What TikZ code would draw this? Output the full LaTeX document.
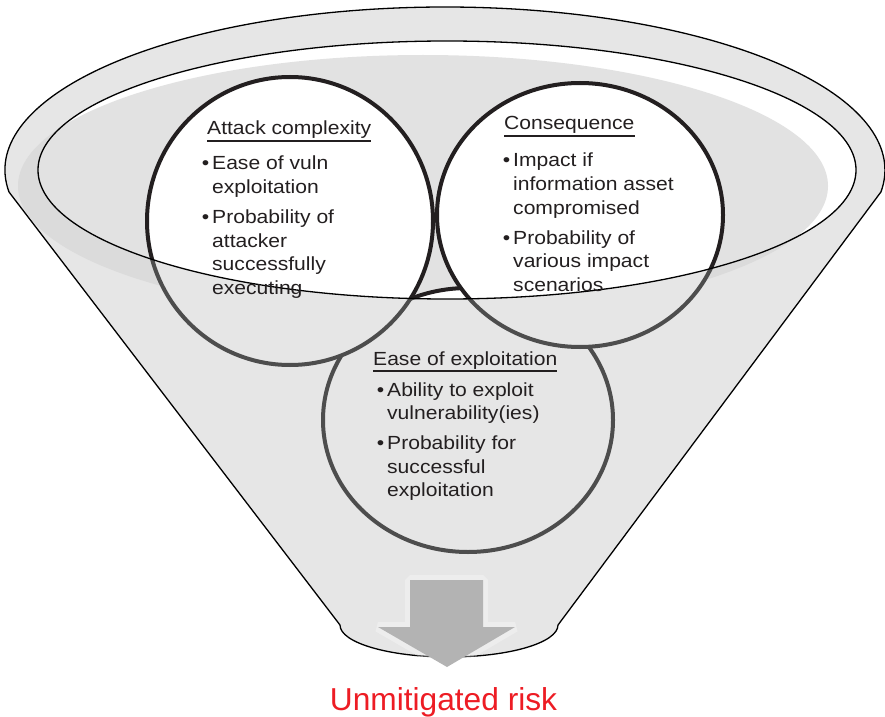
\documentclass[tikz,border=0pt]{standalone}
\usepackage{fontspec}
\setmainfont{Liberation Sans}
\newfontfamily\bodyfont{Liberation Sans}[FakeStretch=1.11]
\definecolor{ink}{HTML}{231F20}
\definecolor{funnelgray}{HTML}{E6E6E6}
\definecolor{bandgray}{HTML}{DBDBDB}
\definecolor{glowgray}{HTML}{E2E2E2}
\definecolor{rimgray}{HTML}{4D4D4D}
\definecolor{arrowgray}{HTML}{B3B3B3}
\definecolor{riskred}{HTML}{ED1C24}

\newcommand{\riskline}[1]{\hbox{#1}}
\newcommand{\riskbullet}[1]{\hbox{\llap{\textbullet\hspace{3bp}}#1}}
\newcommand{\riskgap}{\vskip6bp}
\newcommand{\risklist}[1]{\vtop{\baselineskip=23.7bp #1}}

\tikzset{
funnel/.style={fill=funnelgray,draw=black,line width=1.3bp,line join=round},
lens/.style={line width=4bp},
heading/.style={font=\bodyfont\fontsize{19bp}{23.7bp}\selectfont,text=ink,inner sep=0pt,anchor=base west},
points/.style={heading},
underline/.style={draw=ink,line width=1.6bp},
}

\begin{document}
\begin{tikzpicture}[x=1bp,y=-1bp]
\useasboundingbox (0,0) rectangle (885,717);
\draw[funnel] (9,192) arc[start angle=172.24,end angle=367.76,x radius=440,y radius=163]
  -- (558,625) arc[start angle=0,end angle=180,x radius=109,y radius=32] -- cycle;
\fill[bandgray] (423,186) ellipse[x radius=405,y radius=131];
\foreach \cx/\cy/\rx/\ry in {468/420/145/132,290/221/143/144,580/215/143/132}
  \draw[lens,fill=funnelgray,draw=rimgray] (\cx,\cy) ellipse[x radius=\rx,y radius=\ry];
\begin{scope}
\clip (447,170) ellipse[x radius=409,y radius=129];
\fill[white] (447,170) ellipse[x radius=409,y radius=129];
\fill[glowgray] (423,186) ellipse[x radius=405,y radius=131];
\foreach \cx/\cy/\rx/\ry in {468/420/145/132,290/221/143/144,580/215/143/132}
  \draw[lens,fill=white,draw=ink] (\cx,\cy) ellipse[x radius=\rx,y radius=\ry];
\end{scope}
\draw[line width=1.3bp] (447,170) ellipse[x radius=409,y radius=129];

\node[heading] (ac-title) at (207,135) {Attack complexity};
\node[points] (ac-list) at (212,170) {\risklist{\riskbullet{Ease of vuln}\riskline{exploitation}\riskgap
  \riskbullet{Probability of}\riskline{attacker}\riskline{successfully}\riskline{executing}}};
\node[heading] (co-title) at (504,130) {Consequence};
\node[points] (co-list) at (513,167) {\risklist{\riskbullet{Impact if}\riskline{information asset}\riskline{compromised}\riskgap
  \riskbullet{Probability of}\riskline{various impact}\riskline{scenarios}}};
\node[heading] (ee-title) at (373,365) {Ease of exploitation};
\node[points] (ee-list) at (387,396) {\risklist{\riskbullet{Ability to exploit}\riskline{vulnerability(ies)}\riskgap
  \riskbullet{Probability for}\riskline{successful}\riskline{exploitation}}};
\foreach \t in {ac,co,ee}
  \draw[underline] ([yshift=-2bp]\t-title.south west) -- ([yshift=-2bp]\t-title.south east);

\fill[arrowgray,preaction={draw=white,draw opacity=.3,line width=10bp,line join=bevel}]
  (410,580) -- (483,580) -- (483,627) -- (515,627) -- (447,667) -- (378,627) -- (410,627) -- cycle;
\node[font=\fontsize{31.7bp}{36bp}\selectfont,text=riskred,anchor=base] (risk) at (443.5,710) {Unmitigated risk};
\end{tikzpicture}
\end{document}
